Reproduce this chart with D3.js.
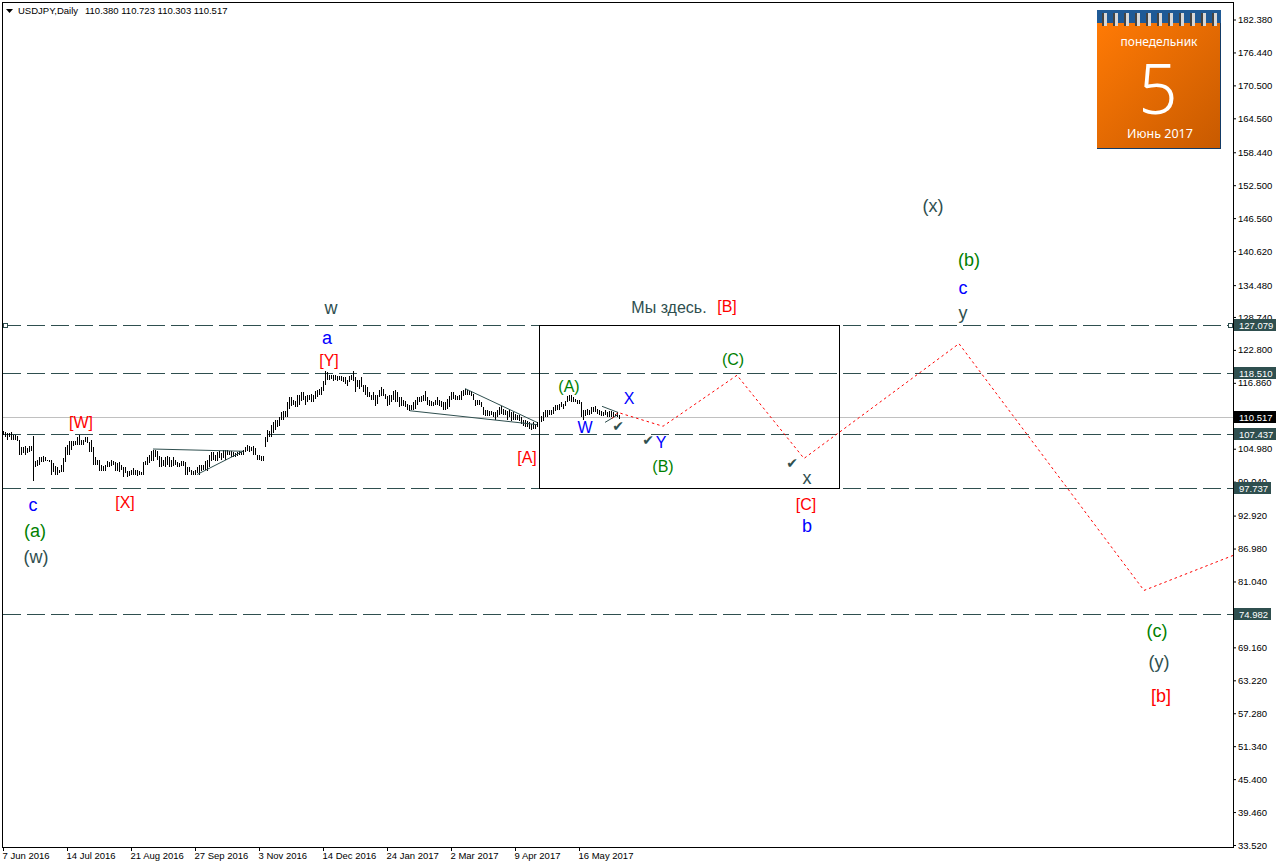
<!DOCTYPE html>
<html><head><meta charset="utf-8">
<style>
html,body{margin:0;padding:0;background:#fff;}
svg{display:block;}
text{font-family:"Liberation Sans",Arial,sans-serif;}
.ax text{font-size:9.5px;fill:#000;}
</style>
<script src="https://cdn.jsdelivr.net/npm/d3@7"></script>
</head><body><div id="c"></div>
<script>
const symbolTitle = "USDJPY,Daily";
const ohlcTitle = "110.380 110.723 110.303 110.517";
const priceTicks = [182.38,176.44,170.5,164.56,158.44,152.5,146.56,140.62,134.48,128.74,122.8,116.86,104.98,99.04,92.92,86.98,81.04,74.98,69.16,63.22,57.28,51.34,45.4,39.46,33.52];
const dateLabels = ["7 Jun 2016","14 Jul 2016","21 Aug 2016","27 Sep 2016","3 Nov 2016","14 Dec 2016","24 Jan 2017","2 Mar 2017","9 Apr 2017","16 May 2017"];
const dateLabelBars = [0,32,64,96,128,160,192,224,256,288];
const barHigh = [
108.0,107.8,107.6,107.6,107.8,107.3,107.4,107.1,106.4,105.1,
105.1,105.3,104.9,105.3,105.3,107.1,102.6,102.8,103.3,103.3,
103.5,103.3,102.9,102.9,102.8,102.2,101.7,101.5,101.1,101.9,
103.1,105.1,105.5,106.2,106.2,106.2,106.2,106.9,107.4,106.5,
106.5,106.9,106.9,106.0,106.5,105.1,103.3,102.9,102.9,101.9,
101.7,101.9,102.6,102.4,102.8,102.6,102.4,102.2,102.4,102.0,
101.5,101.5,100.8,100.8,101.1,101.3,101.0,101.1,100.8,100.6,
102.4,102.6,103.3,103.7,104.4,104.7,104.6,104.4,103.5,103.3,
102.9,103.3,103.5,103.3,102.9,103.3,102.8,102.4,102.2,102.6,
102.6,102.4,101.5,101.5,101.1,100.8,101.1,101.5,102.0,101.9,
102.0,102.6,102.9,103.7,104.2,104.2,103.8,104.2,104.4,104.0,
104.6,104.7,104.7,104.4,104.4,104.2,104.0,104.2,104.4,104.2,
104.7,105.1,105.6,105.3,105.1,105.3,104.9,103.8,103.7,103.5,
103.5,106.9,108.2,108.0,109.2,109.6,110.1,110.1,110.5,111.4,
111.6,111.6,113.2,114.1,114.1,113.7,113.4,114.6,114.5,115.0,
115.0,114.3,114.5,114.6,114.8,114.6,115.2,115.5,115.7,115.9,
117.0,118.8,118.6,118.1,118.2,118.2,118.1,117.9,117.9,117.9,
117.7,117.7,117.3,117.9,118.2,118.8,117.7,117.3,117.2,117.7,
116.4,116.3,115.9,115.0,114.6,115.0,114.6,114.6,115.5,115.9,
115.7,114.8,114.3,114.5,114.5,115.2,115.5,115.0,114.1,114.1,
113.7,113.4,113.0,112.8,112.8,113.2,113.7,114.1,114.1,114.3,
114.6,115.2,114.1,113.7,113.4,113.2,113.7,114.1,113.7,113.4,
113.2,113.2,113.9,114.3,115.0,115.0,114.6,114.3,114.5,115.2,
115.4,115.7,115.4,115.2,115.2,114.8,113.7,113.7,113.6,113.2,
112.3,111.9,111.8,111.6,111.6,111.4,111.4,111.9,112.3,112.5,
112.1,111.9,111.6,111.8,111.4,111.4,111.2,111.0,111.0,110.5,
110.1,110.0,109.8,109.6,109.4,109.6,109.4,109.6,110.3,110.7,
111.4,111.8,111.9,111.9,111.8,112.3,112.7,112.8,113.0,113.2,
113.0,113.4,114.3,114.5,114.5,114.1,113.9,113.7,113.6,113.2,
111.9,111.9,112.1,111.9,112.3,112.3,112.5,112.1,111.8,111.6,
111.4,111.8,111.4,111.6,111.6,111.4,111.2,111.4,111.0];
const barLow = [
107.3,106.9,106.5,106.9,106.4,106.4,106.4,106.2,103.8,103.8,
104.0,103.8,104.0,104.2,104.4,99.0,101.5,101.7,101.9,102.4,
102.4,102.6,102.6,102.4,100.2,100.6,100.1,100.1,100.4,100.6,
100.6,102.4,103.8,103.8,104.7,105.3,105.5,105.6,105.6,105.6,
105.5,106.0,105.8,104.2,104.2,102.0,102.0,102.0,100.8,100.8,
100.8,100.9,101.5,101.5,101.7,101.9,100.8,100.8,100.6,101.1,
99.7,100.4,99.7,99.9,100.1,100.1,100.1,99.9,100.1,100.1,
100.2,101.9,101.9,102.2,102.6,102.6,103.3,102.9,101.5,101.5,
101.7,101.5,102.0,101.5,101.5,101.7,101.9,101.5,101.5,101.7,
101.7,100.2,100.2,100.6,100.2,100.2,100.2,100.4,100.2,100.8,
101.1,101.1,100.8,101.5,102.6,102.9,102.6,102.6,103.1,102.9,
103.1,102.9,103.7,103.7,103.3,103.3,103.3,103.5,103.8,103.7,
103.8,104.2,104.4,104.2,104.4,103.8,103.7,102.9,102.8,102.6,
102.6,105.1,106.0,106.9,106.9,107.6,108.3,108.7,108.9,110.1,
110.1,110.5,110.5,112.1,112.5,112.7,112.3,112.3,112.8,113.4,
113.6,112.8,113.2,113.6,113.2,113.2,113.9,114.1,114.6,114.6,
115.2,116.3,117.2,117.3,117.5,117.0,117.2,117.0,117.2,117.0,
116.8,116.6,116.1,116.8,117.3,117.0,115.0,115.9,115.7,115.9,
115.0,114.5,114.1,114.1,113.7,113.6,112.5,113.0,114.1,114.3,
114.3,113.9,112.5,112.8,113.2,113.6,113.2,113.2,112.3,112.5,
112.5,112.3,111.8,111.6,111.8,111.9,112.1,112.8,113.2,113.2,
113.4,113.4,112.8,112.5,112.5,112.5,112.7,112.8,112.5,112.3,
111.9,111.9,112.1,112.3,113.7,113.9,113.7,113.7,113.7,113.7,
114.3,114.6,114.6,114.5,114.3,113.7,112.5,112.7,112.8,112.3,
111.0,110.7,110.7,110.7,110.9,110.5,110.1,110.5,111.0,111.2,
110.9,111.0,110.1,110.5,109.8,110.0,110.1,110.1,109.8,109.4,
108.9,108.7,108.7,108.5,108.3,108.5,108.5,108.7,109.2,109.6,
109.8,110.5,110.5,111.0,111.0,111.2,111.6,111.9,111.9,112.3,
112.1,112.5,113.2,113.4,113.2,113.2,113.2,113.0,113.0,110.5,
110.1,110.7,111.0,111.0,111.2,111.4,111.4,111.2,110.9,110.7,
110.7,110.9,110.5,110.5,110.5,110.5,110.7,110.5,110.3];
const levelPrices = [127.079,118.51,107.437,97.737,74.982];
const lastPrice = 110.517;
const boxBars = [267.75,417.75];
const boxPrices = [127.079,97.737];
const forecastBars =   [304.5,307.5,311,330,367,400.5,478,570.5,615];
const forecastPrices = [110.3,111.4,111.0,108.9,118.1,103.1,123.8,79.3,85.6];
const trendLines = [
 [75,104.8,120,104.4],[97,100.2,120,104.4],
 [203.5,111.7,267,109.2],[231,115.7,267,109.6],
 [299.5,112.5,307.5,111.4],[301,109.6,307.5,111.0]];
const slate="#2f4f4f", red="#ff0000", blue="#0000ff", green="#008000";
const labelTexts = ["w","a","[Y]","[W]","[X]","c","(a)","(w)","[A]","(A)","W","X","Y","(B)","(C)","Мы здесь.","[B]","x","[C]","b","(x)","(b)","c","y","(c)","(y)","[b]"];
const labelBars = [164,162,163,39,61,15,16,16.5,262,283,291,313,329,330,365,333,362,402,401.5,402,465,483,480,480,577,578,579];
const labelPrices = [130.2,124.9,120.8,109.6,95.3,94.8,90.1,85.4,103.3,116.1,108.7,113.9,106.0,101.7,121.0,130.3,130.5,99.7,94.8,91.0,148.6,139.0,133.8,129.4,72.1,66.5,60.4];
const labelColors = [slate,blue,red,red,red,blue,green,slate,red,green,blue,blue,blue,green,green,slate,red,slate,red,blue,slate,green,blue,slate,green,slate,red];
const labelSizes = [18,18,16,16,16,18,18,18,16,16,16,16,16,16,16,16,16,18,16,18,18,18,18,18,18,18,18];
const checkBars = [307.5,322.5,394.5];
const checkPrices = [108.9,106.4,102.2];
const calendarDay = "5", calendarWeekday = "понедельник", calendarMonth = "Июнь 2017";

const W=1276,H=868;
const x=d3.scaleLinear().domain([0,308]).range([3,619]);
const y=d3.scaleLinear().domain([33.52,182.38]).range([844.3,18.8]);
const svg=d3.select("#c").append("svg").attr("width",W).attr("height",H);
const defs=svg.append("defs");
defs.append("clipPath").attr("id","plot").append("rect").attr("x",3).attr("y",3).attr("width",1230).attr("height",844);
const grad=defs.append("linearGradient").attr("id","cal").attr("x1",0).attr("y1",0).attr("x2",1).attr("y2",1);
grad.append("stop").attr("offset",0).attr("stop-color","#ff7a05");
grad.append("stop").attr("offset",1).attr("stop-color","#c85a00");

const px=v=>Math.round(v)+0.5;
const plot=svg.append("g").attr("clip-path","url(#plot)");

plot.append("line").attr("x1",3).attr("x2",1233).attr("y1",px(y(lastPrice))).attr("y2",px(y(lastPrice)))
  .attr("stroke","#c0c0c0").attr("stroke-width",1).attr("shape-rendering","crispEdges");
plot.selectAll(".lvl").data(levelPrices).join("line").attr("class","lvl")
  .attr("x1",3).attr("x2",1233).attr("y1",d=>px(y(d))).attr("y2",d=>px(y(d)))
  .attr("stroke",slate).attr("stroke-width",1).attr("stroke-dasharray","18 6").attr("shape-rendering","crispEdges");

plot.selectAll(".bar").data(barHigh).join("line").attr("class","bar")
  .attr("x1",(d,i)=>px(x(i))).attr("x2",(d,i)=>px(x(i)))
  .attr("y1",d=>y(d)).attr("y2",(d,i)=>y(barLow[i]))
  .attr("stroke","#000").attr("stroke-width",1).attr("shape-rendering","crispEdges");

plot.selectAll(".tr").data(trendLines).join("line").attr("class","tr")
  .attr("x1",d=>x(d[0])).attr("y1",d=>y(d[1])).attr("x2",d=>x(d[2])).attr("y2",d=>y(d[3]))
  .attr("stroke",slate).attr("stroke-width",1);

plot.append("rect").attr("x",px(x(boxBars[0]))).attr("y",px(y(boxPrices[0])))
  .attr("width",Math.round(x(boxBars[1])-x(boxBars[0]))).attr("height",Math.round(y(boxPrices[1])-y(boxPrices[0])))
  .attr("fill","none").attr("stroke","#000").attr("stroke-width",1).attr("shape-rendering","crispEdges");

const fl=d3.line().x(d=>x(d[0])).y(d=>y(d[1]));
plot.append("path").attr("d",fl(forecastBars.map((b,i)=>[b,forecastPrices[i]])))
  .attr("fill","none").attr("stroke",red).attr("stroke-width",1).attr("stroke-dasharray","2.5 3");

[5,1230].forEach(a=>{
  svg.append("rect").attr("x",a-2).attr("y",px(y(127.079))-2).attr("width",4).attr("height",4)
   .attr("fill","#fff").attr("stroke",slate).attr("stroke-width",1).attr("shape-rendering","crispEdges");
});

svg.selectAll(".lab").data(labelTexts).join("text").attr("class","lab")
  .attr("x",(d,i)=>x(labelBars[i])).attr("y",(d,i)=>y(labelPrices[i])+0.3)
  .attr("text-anchor","middle").attr("dominant-baseline","central")
  .attr("font-size",(d,i)=>labelSizes[i]).attr("fill",(d,i)=>labelColors[i]).text(d=>d);
svg.selectAll(".chk").data(checkBars).join("text").attr("class","chk")
  .attr("x",d=>x(d)).attr("y",(d,i)=>y(checkPrices[i]))
  .attr("text-anchor","middle").attr("dominant-baseline","central")
  .style("font-family","'DejaVu Sans'").attr("font-size",14).attr("fill",slate).text("✔");

svg.append("rect").attr("x",2.5).attr("y",2.5).attr("width",1230.5).attr("height",845)
  .attr("fill","none").attr("stroke","#000").attr("stroke-width",1).attr("shape-rendering","crispEdges");

const ay=d3.axisRight(y).tickValues(priceTicks).tickFormat(d3.format(".3f")).tickSize(3).tickPadding(2);
const gy=svg.append("g").attr("class","ax").attr("transform","translate(1233,0.7)").call(ay);
gy.select(".domain").remove();
gy.selectAll("line").attr("stroke","#000");
const ax=d3.axisBottom(x).tickValues(dateLabelBars).tickFormat((d,i)=>dateLabels[i]).tickSize(3).tickPadding(1);
const gx=svg.append("g").attr("class","ax").attr("transform","translate(0,848)").call(ax);
gx.select(".domain").remove();
gx.selectAll("line").attr("stroke","#000");
gx.selectAll("text").attr("text-anchor","start").attr("dx",-1).attr("y",4);

function tag(v,c,w){
  const g=svg.append("g").attr("transform",`translate(1234,${Math.round(y(v))})`);
  g.append("rect").attr("x",0).attr("y",-6).attr("width",w).attr("height",12).attr("fill",c);
  g.append("text").attr("x",5).attr("y",0).attr("dominant-baseline","central").attr("font-size",9.5).attr("fill","#fff").text(d3.format(".3f")(v));
}
levelPrices.forEach(v=>tag(v,slate,v<100?37:42));
tag(lastPrice,"#000",42);

svg.append("path").attr("d",d3.line()([[6,9],[13,9],[9.5,13]])+"Z").attr("fill","#000");
svg.append("text").attr("x",18).attr("y",14).attr("font-size",9.5).text(symbolTitle);
svg.append("text").attr("x",85).attr("y",14).attr("font-size",9.5).text(ohlcTitle);

const cal=svg.append("g").attr("transform","translate(1097,10)");
cal.append("rect").attr("width",124).attr("height",139).attr("fill","#123a66");
cal.append("rect").attr("y",0).attr("width",124).attr("height",13).attr("fill","#1f5a96");
cal.append("rect").attr("y",13).attr("width",123).attr("height",125).attr("fill","url(#cal)");
d3.range(11).forEach(i=>{
  cal.append("rect").attr("x",5+i*11).attr("y",3).attr("width",5).attr("height",13).attr("fill","#d8d8d8");
  cal.append("rect").attr("x",5+i*11).attr("y",3).attr("width",2).attr("height",13).attr("fill","#444");
});
cal.append("text").attr("x",62).attr("y",31).attr("text-anchor","middle").attr("dominant-baseline","central")
  .style("font-family","'Noto Sans'").attr("font-size",12).attr("fill","#fff").text(calendarWeekday);
cal.append("text").attr("x",61).attr("y",77).attr("text-anchor","middle").attr("dominant-baseline","central")
  .style("font-family","'Noto Sans'").attr("font-size",69).attr("font-weight",300).attr("fill","#fff").text(calendarDay);
cal.append("text").attr("x",63).attr("y",123).attr("text-anchor","middle").attr("dominant-baseline","central")
  .style("font-family","'Noto Sans'").attr("font-size",12.5).attr("fill","#fff").text(calendarMonth);
</script></body></html>
